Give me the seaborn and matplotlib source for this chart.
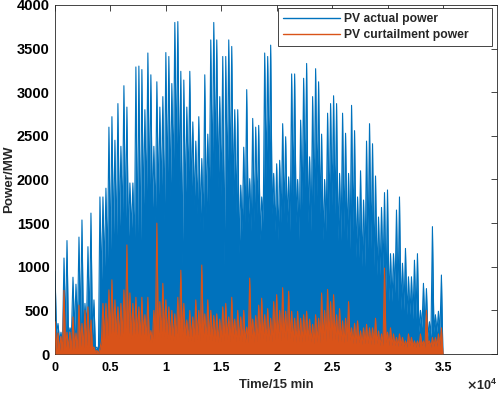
import numpy as np
import pandas as pd
import matplotlib
matplotlib.use("Agg")
import matplotlib.pyplot as plt
import seaborn as sns

# Peak readings (MW), one per ~270 fifteen-minute steps, and the depth of the
# gap that follows each peak (where the dense trace is solid below)
actual_peak = [950, 350, 250, 1100, 1300, 300, 880, 800, 1340, 1536,
               580, 1230, 1615, 620, 80, 1800, 1800, 1900, 2600, 2720,
               2450, 2870, 2380, 3075, 2830, 1960, 1960, 3290, 3300, 3260,
               2800, 3450, 3200, 2380, 3120, 2830, 2950, 3455, 3410, 3100,
               3800, 3810, 3240, 3140, 2830, 3240, 2660, 2440, 2720, 2240,
               3200, 2520, 3600, 3800, 3600, 2950, 3410, 3410, 3600, 3525,
               2800, 2800, 1935, 2370, 3030, 2010, 2700, 2600, 2620, 1800,
               3450, 3410, 3540, 2070, 2180, 2220, 2640, 2490, 2030, 3210,
               3210, 2000, 2680, 3160, 3330, 2260, 2950, 3270, 3120, 2520,
               2000, 2760, 2870, 2960, 2870, 2070, 2760, 2530, 2070, 2850,
               2560, 1800, 2100, 1765, 2440, 2640, 2410, 2040, 1570, 1680,
               1850, 1880, 1150, 1150, 1650, 1800, 1040, 1210, 885, 885,
               1075, 1150, 500, 810, 750, 370, 1460, 450, 490, 905]

actual_trough = [240, 150, 120, 250, 200, 250, 250, 300, 300, 250,
                 300, 300, 200, 60, 30, 800, 950, 1000, 1100, 1300,
                 1250, 1400, 1500, 1450, 1300, 1400, 1150, 1200, 1100, 1600,
                 1700, 1800, 1600, 1500, 1700, 1800, 1500, 1900, 1800, 2000,
                 2200, 1900, 1000, 1700, 1900, 1800, 1700, 1600, 1500, 1400,
                 1600, 1700, 2000, 2200, 1900, 1800, 1000, 1900, 2000, 1800,
                 1600, 1150, 1400, 1500, 1500, 1400, 1500, 1600, 1300, 1500,
                 2000, 2100, 1600, 1400, 1300, 1500, 1600, 1500, 1400, 1800,
                 1500, 1300, 1700, 1900, 1500, 1400, 1700, 1800, 1600, 1300,
                 1400, 1600, 1700, 1600, 1300, 1300, 1400, 1300, 1200, 1400,
                 1100, 1100, 1000, 1000, 1200, 1200, 1000, 900, 900, 900,
                 700, 600, 600, 700, 600, 500, 500, 450, 450, 400,
                 400, 250, 300, 300, 200, 200, 250, 250, 250, 0]

curtail_peak = [370, 240, 200, 730, 250, 250, 425, 240, 560, 350,
                500, 540, 390, 80, 40, 60, 580, 580, 735, 850,
                620, 540, 580, 735, 1250, 700, 580, 650, 540, 650,
                450, 650, 270, 500, 1500, 600, 810, 620, 540, 500,
                460, 650, 960, 580, 390, 500, 425, 620, 500, 1020,
                460, 620, 500, 440, 460, 400, 540, 580, 425, 650,
                400, 500, 425, 500, 310, 870, 400, 440, 560, 640,
                450, 520, 410, 600, 680, 500, 760, 490, 720, 490,
                410, 490, 410, 450, 490, 400, 340, 450, 410, 700,
                500, 740, 600, 680, 450, 520, 380, 410, 600, 300,
                350, 380, 265, 300, 340, 300, 300, 410, 265, 230,
                985, 250, 300, 230, 190, 230, 190, 150, 230, 190,
                150, 150, 230, 150, 500, 150, 190, 190, 230, 300]

curtail_trough = [60, 40, 30, 80, 60, 40, 60, 50, 80, 60,
                  80, 80, 60, 20, 10, 150, 160, 180, 200, 220,
                  200, 180, 200, 220, 200, 180, 190, 200, 170, 200,
                  160, 150, 140, 180, 200, 190, 200, 180, 170, 160,
                  170, 190, 200, 180, 150, 160, 150, 170, 160, 190,
                  150, 170, 160, 150, 140, 150, 160, 170, 150, 180,
                  150, 160, 150, 140, 130, 180, 140, 150, 170, 180,
                  150, 160, 140, 170, 180, 160, 190, 160, 180, 150,
                  140, 150, 140, 150, 160, 140, 120, 140, 130, 170,
                  150, 180, 160, 170, 140, 150, 130, 140, 160, 120,
                  120, 130, 110, 120, 120, 110, 110, 120, 100, 100,
                  130, 100, 100, 100, 90, 100, 90, 80, 100, 90,
                  80, 80, 100, 80, 120, 80, 90, 90, 100, 0]

series_names = ["PV actual power", "PV curtailment power"]
x_ticks = [0, 5000, 10000, 15000, 20000, 25000, 30000, 35000]
x_tick_labels = ["0", "0.5", "1", "1.5", "2", "2.5", "3", "3.5"]
y_ticks = [0, 500, 1000, 1500, 2000, 2500, 3000, 3500, 4000]

STEP = 270  # fifteen-minute samples between peak readings


def zigzag(peaks, troughs, name):
    n = len(peaks)
    t = np.arange(2 * n) * (STEP / 2)
    v = np.empty(2 * n)
    v[0::2] = peaks
    v[1::2] = troughs
    return pd.DataFrame({"t": t, "p": v, "series": name})


d_act = zigzag(actual_peak, actual_trough, series_names[0])
d_cur = zigzag(curtail_peak, curtail_trough, series_names[1])
df = pd.concat([d_act, d_cur], ignore_index=True)

sns.set_theme(style="white")
plt.rcParams["font.family"] = ["Liberation Sans", "DejaVu Sans"]
plt.rcParams["font.weight"] = "bold"

fig = plt.figure(figsize=(4.98, 3.96), dpi=100)
ax = fig.add_axes([55 / 498, 1 - 354 / 396, (497 - 55) / 498, (354 - 5) / 396])

colors = {series_names[0]: "#0072BD", series_names[1]: "#D95319"}

ax.fill_between(d_act["t"], 0, d_act["p"], color=colors[series_names[0]],
                linewidth=0, zorder=1)
ax.fill_between(d_cur["t"], 0, d_cur["p"], color=colors[series_names[1]],
                linewidth=0, zorder=3)
sns.lineplot(data=d_act, x="t", y="p", color=colors[series_names[0]],
             estimator=None, sort=False, linewidth=0.8, ax=ax,
             label=series_names[0], zorder=2)
sns.lineplot(data=d_cur, x="t", y="p", color=colors[series_names[1]],
             estimator=None, sort=False, linewidth=0.8, ax=ax,
             label=series_names[1], zorder=4)

ax.set_xlim(0, 39840)
ax.set_ylim(0, 4000)
ax.set_xticks(x_ticks)
ax.set_xticklabels(x_tick_labels)
ax.set_yticks(y_ticks)
ax.tick_params(direction="in", length=4, width=0.6, colors="#262626",
               top=True, right=True, pad=5)
ax.tick_params(axis="y", labelsize=10.5, pad=4)
ax.tick_params(axis="x", labelsize=9, pad=6)
for lab in ax.get_xticklabels() + ax.get_yticklabels():
    lab.set_fontweight("bold")
    lab.set_color("black")
for sp in ax.spines.values():
    sp.set_visible(True)
    sp.set_color("#262626")
    sp.set_linewidth(0.6)

ax.set_xlabel("Time/15 min", fontsize=9.4, fontweight="bold", labelpad=3)
ax.set_ylabel("Power/MW", fontsize=9.6, fontweight="bold", labelpad=1)
ax.text(1.0, -0.103, r"$\times\mathregular{10^{4}}$", transform=ax.transAxes,
        ha="right", va="baseline", fontsize=9, color="#262626")

leg = ax.legend(loc="upper left", bbox_to_anchor=(0.5045, 0.8825, 0.4842, 0.109),
                mode="expand", frameon=True, fancybox=False,
                edgecolor="#262626", framealpha=1, handlelength=4.7,
                borderpad=0.4, labelspacing=0.35, handletextpad=0.35,
                borderaxespad=0.0, prop={"weight": "bold", "size": 8.7})
leg.get_frame().set_linewidth(0.6)
for line in leg.get_lines():
    line.set_linewidth(1.0)

fig.savefig("out.png", dpi=100)
